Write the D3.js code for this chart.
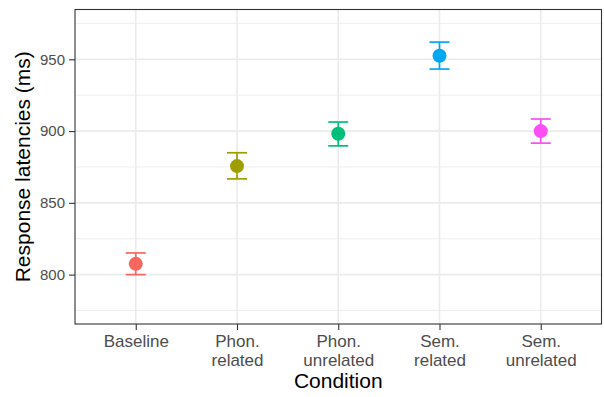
<!DOCTYPE html>
<html>
<head>
<meta charset="utf-8">
<script src="https://cdn.jsdelivr.net/npm/d3@7"></script>
<style>
  body { margin: 0; background: #fff; }
  svg { display: block; font-family: "Liberation Sans", Arial, Helvetica, sans-serif; }
</style>
</head>
<body>
<svg id="chart"></svg>
<script>
// Data
const conditions = ['Baseline', 'Phon.\nrelated', 'Phon.\nunrelated', 'Sem.\nrelated', 'Sem.\nunrelated'];
const means = [807.5, 875.6, 898.1, 952.5, 900.0];
const upper = [815.1, 884.9, 906.3, 962.0, 908.4];
const lower = [800.0, 866.7, 889.7, 943.2, 891.6];
const colors = ['#F8665F', '#9E9E00', '#00BF7A', '#00A8F2', '#FA4FF2'];
const yTicks = [800, 850, 900, 950];
const yMinor = [775, 825, 875, 925, 975];

const width = 604, height = 397;
const margin = { top: 9.5, right: 2.5, bottom: 73, left: 75 };
const innerW = width - margin.left - margin.right;
const innerH = height - margin.top - margin.bottom;

const svg = d3.select('#chart')
    .attr('width', width)
    .attr('height', height);

const g = svg.append('g')
    .attr('transform', `translate(${margin.left},${margin.top})`);

// ggplot-style discrete scale: 0.6 expansion on each side
const x = d3.scalePoint()
    .domain(d3.range(conditions.length))
    .range([0, innerW])
    .padding(0.6);

const y = d3.scaleLinear()
    .domain([765.6, 984.7])
    .range([innerH, 0]);

// Gridlines
g.append('g').selectAll('line')
    .data(yMinor)
    .join('line')
    .attr('x1', 0).attr('x2', innerW)
    .attr('y1', d => y(d)).attr('y2', d => y(d))
    .attr('stroke', '#EBEBEB').attr('stroke-width', 0.8);

g.append('g').selectAll('line')
    .data(yTicks)
    .join('line')
    .attr('x1', 0).attr('x2', innerW)
    .attr('y1', d => y(d)).attr('y2', d => y(d))
    .attr('stroke', '#EBEBEB').attr('stroke-width', 1.6);

g.append('g').selectAll('line')
    .data(d3.range(conditions.length))
    .join('line')
    .attr('x1', d => x(d)).attr('x2', d => x(d))
    .attr('y1', 0).attr('y2', innerH)
    .attr('stroke', '#EBEBEB').attr('stroke-width', 1.6);

// Axes
const yAxis = d3.axisLeft(y)
    .tickValues(yTicks)
    .tickSize(6)
    .tickPadding(4);

const xAxis = d3.axisBottom(x)
    .tickSize(6)
    .tickPadding(4)
    .tickFormat(() => '');

const yAxisG = g.append('g').call(yAxis);
const xAxisG = g.append('g')
    .attr('transform', `translate(0,${innerH})`)
    .call(xAxis);

[yAxisG, xAxisG].forEach(a => {
    a.select('.domain').remove();
    a.selectAll('.tick line').attr('stroke', '#333').attr('stroke-width', 1.1);
});

yAxisG.selectAll('.tick text')
    .attr('fill', '#4D4D4D')
    .attr('font-size', 15)
    .attr('font-family', null);

// Multi-line x labels
xAxisG.selectAll('.tick text')
    .attr('fill', '#4D4D4D')
    .attr('font-size', 17)
    .attr('font-family', null)
    .attr('dy', null)
    .attr('y', 0)
    .each(function (d) {
        const lines = conditions[d].split('\n');
        d3.select(this).selectAll('tspan')
            .data(lines)
            .join('tspan')
            .attr('x', 0)
            .attr('y', (l, i) => 23 + i * 19)
            .text(l => l);
    });

// Panel border
g.append('rect')
    .attr('width', innerW)
    .attr('height', innerH)
    .attr('fill', 'none')
    .attr('stroke', '#333')
    .attr('stroke-width', 1.1);

// Error bars and points
const pts = g.append('g').selectAll('g')
    .data(d3.range(conditions.length))
    .join('g')
    .attr('stroke', i => colors[i])
    .attr('fill', i => colors[i]);

pts.append('line')
    .attr('x1', i => x(i)).attr('x2', i => x(i))
    .attr('y1', i => y(upper[i])).attr('y2', i => y(lower[i]))
    .attr('stroke-width', 1.7);

pts.selectAll('.cap')
    .data(i => [[i, upper[i]], [i, lower[i]]])
    .join('line')
    .attr('class', 'cap')
    .attr('x1', d => x(d[0]) - 10).attr('x2', d => x(d[0]) + 10)
    .attr('y1', d => y(d[1])).attr('y2', d => y(d[1]))
    .attr('stroke-width', 1.7);

pts.append('circle')
    .attr('cx', i => x(i))
    .attr('cy', i => y(means[i]))
    .attr('r', 7)
    .attr('stroke', 'none');

// Axis titles
svg.append('text')
    .attr('x', margin.left + innerW / 2)
    .attr('y', 388)
    .attr('text-anchor', 'middle')
    .attr('font-size', 21)
    .attr('fill', '#000')
    .text('Condition');

svg.append('text')
    .attr('transform', `translate(30,${margin.top + innerH / 2}) rotate(-90)`)
    .attr('text-anchor', 'middle')
    .attr('font-size', 21)
    .attr('fill', '#000')
    .text('Response latencies (ms)');
</script>
</body>
</html>
